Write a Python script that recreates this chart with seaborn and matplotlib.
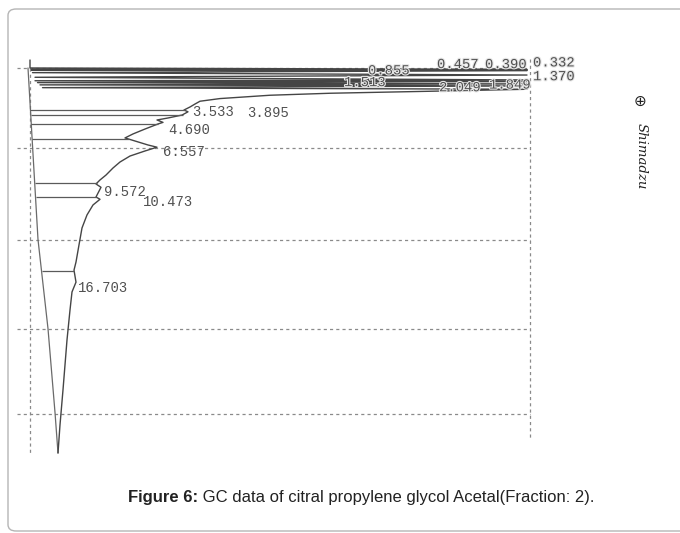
import numpy as np
import matplotlib
matplotlib.use("Agg")
import matplotlib.pyplot as plt
import matplotlib.patheffects as pe
from matplotlib.patches import FancyBboxPatch
import seaborn as sns

sns.set_style("white")
plt.rcParams["font.family"] = ["DejaVu Sans"]

# pen trace: time (min) runs downward,
# detector signal (% of full scale) runs to the right
trace_t = [0.00, 0.60, 0.70, 0.72, 0.75, 0.77, 0.80, 0.95, 1.13, 1.30,
           1.50, 1.56, 1.62, 1.70, 1.80, 1.87, 1.95, 2.08, 2.20, 2.35,
           2.50, 2.65, 2.90, 3.10, 3.31, 3.533, 3.76, 3.895, 4.14, 4.36,
           4.51, 4.690, 4.81, 5.19, 5.56, 5.86, 6.09, 6.39, 6.557, 6.84,
           7.22, 7.67, 8.12, 8.65, 9.02, 9.32, 9.572, 10.30, 10.473, 10.90,
           11.65, 12.63, 13.90, 15.19, 15.80, 16.703, 17.44, 18.80, 21.05, 24.80,
           27.44, 29.55]
trace_v = [0.0, 0.0, 99.4, 0.3, 99.4, 0.3, 99.4, 0.5, 99.4, 1.0,
           99.4, 1.0, 99.4, 1.5, 99.4, 2.0, 99.4, 2.5, 99.4, 80.0,
           60.0, 48.0, 38.0, 34.0, 33.0, 32.0, 30.8, 31.6, 30.4, 27.6,
           25.4, 26.6, 25.6, 23.0, 20.6, 19.0, 21.0, 23.6, 25.4, 23.0,
           20.0, 18.0, 16.6, 15.2, 14.0, 13.2, 14.2, 13.2, 14.0, 12.6,
           11.4, 10.4, 9.8, 9.2, 8.8, 9.2, 8.4, 8.0, 7.4, 6.6,
           6.0, 5.6]

# integrator baseline (drifts slowly)
base_t = [0.6, 9.0, 13.5, 20.2, 26.5, 29.55]
base_v = [-0.4, 0.9, 1.6, 3.6, 5.0, 5.6]

# drop lines between peaks
drop_t = [3.78, 4.10, 4.80, 5.95, 9.25, 10.30, 15.85]

# labelled peaks (retention times as printed); first eight are off scale
peak_t = [0.332, 1.370, 0.390, 0.457, 0.855, 1.513, 2.049, 1.849,
          3.533, 3.895, 4.690, 6.557, 9.572, 10.473, 16.703]
peak_lbl = ["0.332", "1.370", "0.390", "0.457", "0.855", "1.513", "2.049", "1.849",
            "3.533", "3.895", "4.690", "6:557", "9.572", "10.473", "16.703"]
offscale = [True] * 8 + [False] * 7
# label offsets in pixels from the peak apex
lbl_off = [(3, 2), (3, 2), (-45, 1), (-93, 2), (-162, 1), (-186, -2), (-91, 0), (-41, 0),
           (2, -5), (59, -1), (5, -8), (6, -5), (3, -5), (43, -3), (2, -6)]

# chart paper grid
grid_t = [0.6, 6.6, 13.5, 20.2, 26.6]

fig = plt.figure(figsize=(6.8, 5.33), dpi=100)
ax = fig.add_axes([5 / 680, 1 - 478.95 / 533, 530 / 680, (478.95 - 53.35) / 533])
ax.set_xlim(-5, 101)
ax.set_ylim(31.5, -0.5)
ax.axis("off")

grid_kw = dict(color="#8a8a8a", lw=0.9, linestyle=(0, (2.5, 2.5)))
ax.hlines(grid_t, -2.6, 100, **grid_kw)
ax.vlines(0, 0.6, 29.7, **grid_kw)
ax.vlines(100, -0.1, 28.6, **grid_kw)

sns.lineplot(x=base_v, y=base_t, sort=False, estimator=None, color="#6a6a6a",
             lw=0.9, ax=ax)
sns.lineplot(x=trace_v, y=trace_t, sort=False, estimator=None, color="#454545",
             lw=1.0, ax=ax)

drop_base = np.interp(drop_t, base_t, base_v)
drop_sig = np.interp(drop_t, trace_t, trace_v)
ax.hlines(drop_t, drop_base, drop_sig, color="#5a5a5a", lw=0.9)

for t, lbl, off, big in zip(peak_t, peak_lbl, lbl_off, offscale):
    v = 100 if big else np.interp(t, trace_t, trace_v)
    txt = ax.annotate(lbl, xy=(v, t), xytext=off, textcoords="offset pixels",
                      ha="left", va="center", fontsize=10, color="#505050",
                      family="Liberation Mono", annotation_clip=False, zorder=5)
    if big:
        txt.set_path_effects([pe.withStroke(linewidth=1.6, foreground="#e6e6e6")])

# recorder brand mark
fig.text(640 / 680, 1 - 101 / 533, "\u2295", ha="center", va="center",
         fontsize=11, color="#222222")
fig.text(641 / 680, 1 - 123 / 533, "Shimadzu", ha="center", va="top",
         rotation=-90, fontsize=9.5, fontstyle="italic", family="DejaVu Serif",
         color="#222222")

# caption
cap1 = fig.text(128 / 680, 1 - 502 / 533, "Figure 6:", ha="left", va="baseline",
                fontsize=12, fontweight="bold", family="Liberation Sans", color="#222222")
ax.annotate(" GC data of citral propylene glycol Acetal(Fraction: 2).",
            xy=(1, 0), xycoords=cap1, ha="left", va="bottom",
            fontsize=12, family="Liberation Sans", color="#222222",
            annotation_clip=False)

# rounded frame around the figure panel
frame = FancyBboxPatch((8 / 680, 1 - 531 / 533), 700 / 680, 522 / 533,
                       boxstyle="round,pad=0,rounding_size=0.012",
                       transform=fig.transFigure, fill=False,
                       edgecolor="#b5b5b5", lw=1.0, clip_on=False)
fig.patches.append(frame)

fig.savefig("out.png", dpi=100)
